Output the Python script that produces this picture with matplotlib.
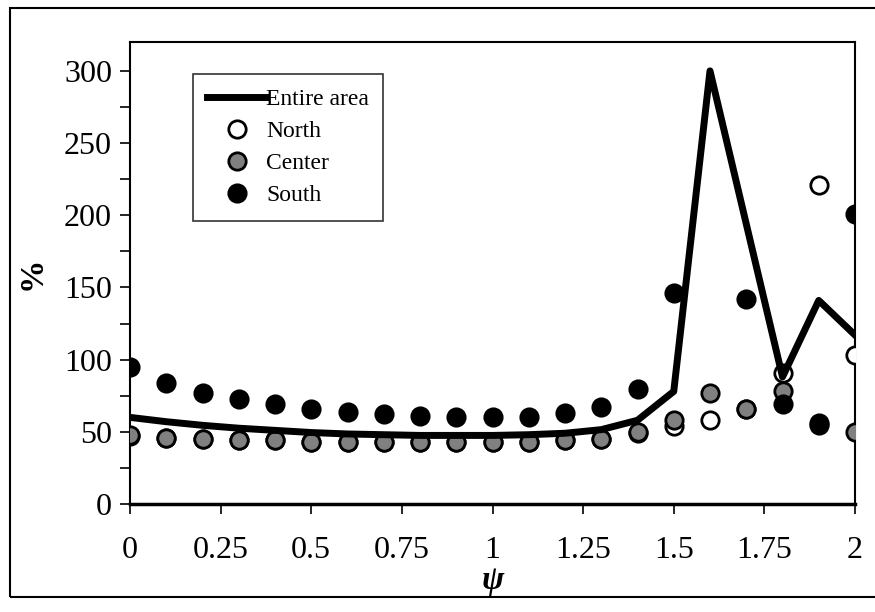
import numpy as np
import matplotlib
matplotlib.use("Agg")
import matplotlib.pyplot as plt
from matplotlib.patches import Rectangle
from matplotlib.ticker import MultipleLocator, FixedLocator, FixedFormatter

plt.rcParams['font.family'] = ['Liberation Serif', 'DejaVu Serif']

# ---- data ----
psi = [0.0, 0.1, 0.2, 0.3, 0.4, 0.5, 0.6, 0.7, 0.8, 0.9, 1.0,
       1.1, 1.2, 1.3, 1.4, 1.5, 1.6, 1.7, 1.8, 1.9, 2.0]
entire = [60, 57, 54.5, 52.5, 51, 49.5, 48.5, 48, 47.5, 47.5, 47.5,
          48, 49, 51.5, 58, 78, 300, 194, 88, 141, 117]
north = [47, 46, 45, 44, 44, 43, 43, 43, 43, 43, 43,
         43, 44, 45, 49, 54, 58, 66, 91, 221, 103]
center = [48, 46, 45, 44, 44, 43, 43, 43, 43, 43, 43,
          43, 44, 45, 50, 58, 77, 66, 78, 55, 50]
south = [95, 84, 77, 73, 69, 66, 64, 62, 61, 60, 60,
         60, 63, 67, 80, 146, np.nan, 142, 69, 56, 201]

xticks = [0, 0.25, 0.5, 0.75, 1, 1.25, 1.5, 1.75, 2]
xlabels = ["0", "0.25", "0.5", "0.75", "1", "1.25", "1.5", "1.75", "2"]

fig = plt.figure(figsize=(8.75, 6.12), dpi=100)
ax = fig.add_axes([130 / 875, 1 - 504 / 612, 725 / 875, 462 / 612])

ms = 12.5
ax.plot(psi, north, 'o', ms=ms, mfc='white', mec='black', mew=2, label='North', zorder=3)
ax.plot(psi, center, 'o', ms=ms, mfc='#808080', mec='black', mew=2, label='Center', zorder=3)
ax.plot(psi, south, 'o', ms=ms, mfc='black', mec='black', mew=2, label='South', zorder=3)
ax.plot(psi, entire, '-', color='black', lw=5, label='Entire area', zorder=4)

ax.set_xlim(0, 2)
ax.set_ylim(0, 320)
ax.xaxis.set_major_locator(FixedLocator(xticks))
ax.xaxis.set_major_formatter(FixedFormatter(xlabels))
ax.yaxis.set_major_locator(MultipleLocator(50))
ax.yaxis.set_minor_locator(MultipleLocator(25))
ax.tick_params(axis='both', which='both', direction='out', length=7, width=1.2,
               labelsize=23, color='black')
ax.tick_params(axis='x', pad=16)
ax.tick_params(axis='y', pad=6)

for s in ['top', 'right', 'left']:
    ax.spines[s].set_linewidth(1.5)
ax.spines['bottom'].set_linewidth(2.5)

ax.set_xlabel('ψ', fontsize=24, fontweight='bold', fontstyle='italic', labelpad=0)
ax.set_ylabel('%', fontsize=24, fontweight='bold', labelpad=12)

handles, labels = ax.get_legend_handles_labels()
order = [3, 0, 1, 2]
leg = ax.legend([handles[i] for i in order], [labels[i] for i in order],
                loc='upper left', bbox_to_anchor=(0.087, 0.93), fontsize=17,
                frameon=True, fancybox=False, edgecolor='black',
                handlelength=2.5, handletextpad=0.0, borderpad=0.6,
                labelspacing=0.45, borderaxespad=0)
leg.get_frame().set_linewidth(1.2)

# outer chart border
fig.patches.append(Rectangle((10 / 875, 1 - 597 / 612), 900 / 875, 589 / 612,
                             transform=fig.transFigure, fill=False,
                             edgecolor='black', lw=1.5, clip_on=False))

fig.savefig('out.png', dpi=100)
